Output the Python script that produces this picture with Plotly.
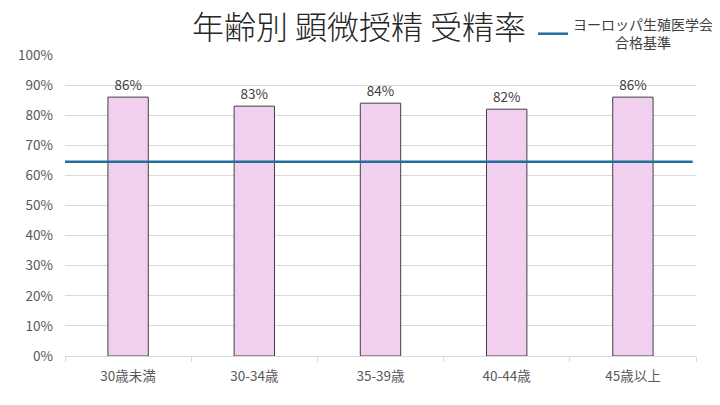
import plotly.graph_objects as go

categories = ["30歳未満", "30-34歳", "35-39歳", "40-44歳", "45歳以上"]
rates = [86, 83, 84, 82, 86]
benchmark_name = "ヨーロッパ生殖医学会<br>　　　合格基準"
benchmark_value = 64.5
title_text = "年齢別 顕微授精 受精率"

FONT = "Noto Sans CJK JP"

positions = list(range(len(categories)))
x_range = [-0.5, len(categories) - 0.5]
labels = [f"{v}%" for v in rates]

fig = go.Figure()
fig.add_trace(go.Bar(
    x=positions, y=rates,
    width=0.32,
    marker=dict(color="#F1CFEE", line=dict(color="#404040", width=1)),
    text=labels, texttemplate="%{text}", textposition="outside",
    textfont=dict(family=FONT, size=13.5, color="#404040"),
    cliponaxis=False,
    showlegend=False,
    hoverinfo="skip",
))
fig.add_trace(go.Scatter(
    x=[x_range[0] - 0.055, x_range[1] - 0.026],
    y=[benchmark_value, benchmark_value],
    mode="lines",
    line=dict(color="#1F6E9C", width=2.5),
    name=benchmark_name,
    cliponaxis=False,
    showlegend=True,
    hoverinfo="skip",
))

fig.update_layout(
    width=720, height=405,
    margin=dict(l=57, r=32, t=47, b=57, autoexpand=False),
    paper_bgcolor="white", plot_bgcolor="white",
    font=dict(family=FONT, color="#595959"),
    title=dict(text=title_text, x=351 / 720, xref="container", xanchor="center",
               y=1 - 20 / 405, yref="container", yanchor="middle",
               font=dict(family=FONT, size=32, color="#262626", weight=300)),
    xaxis=dict(range=x_range, tickmode="array", tickvals=positions, ticktext=categories,
               showline=True, linecolor="#D9D9D9", linewidth=1,
               ticks="", ticklabelstandoff=8,
               minor=dict(ticks="outside", tick0=-0.5, dtick=1, ticklen=5,
                          tickcolor="#D9D9D9", showgrid=False),
               tickfont=dict(family=FONT, size=13.5, color="#595959"),
               showgrid=False, zeroline=False, fixedrange=True),
    yaxis=dict(range=[0, 100], dtick=10, ticksuffix="%",
               showgrid=True, gridcolor="#D9D9D9", gridwidth=1,
               zeroline=False, showline=False, ticks="", ticklabelstandoff=11,
               tickfont=dict(family=FONT, size=13.5, color="#595959"),
               fixedrange=True),
    showlegend=True,
    legend=dict(x=525 / 720, xref="container", xanchor="left",
                y=1 - 1 / 405, yref="container", yanchor="top",
                bgcolor="rgba(0,0,0,0)",
                font=dict(family=FONT, size=14, color="#404040"),
                itemwidth=30),
)

fig.write_html("out.html")
